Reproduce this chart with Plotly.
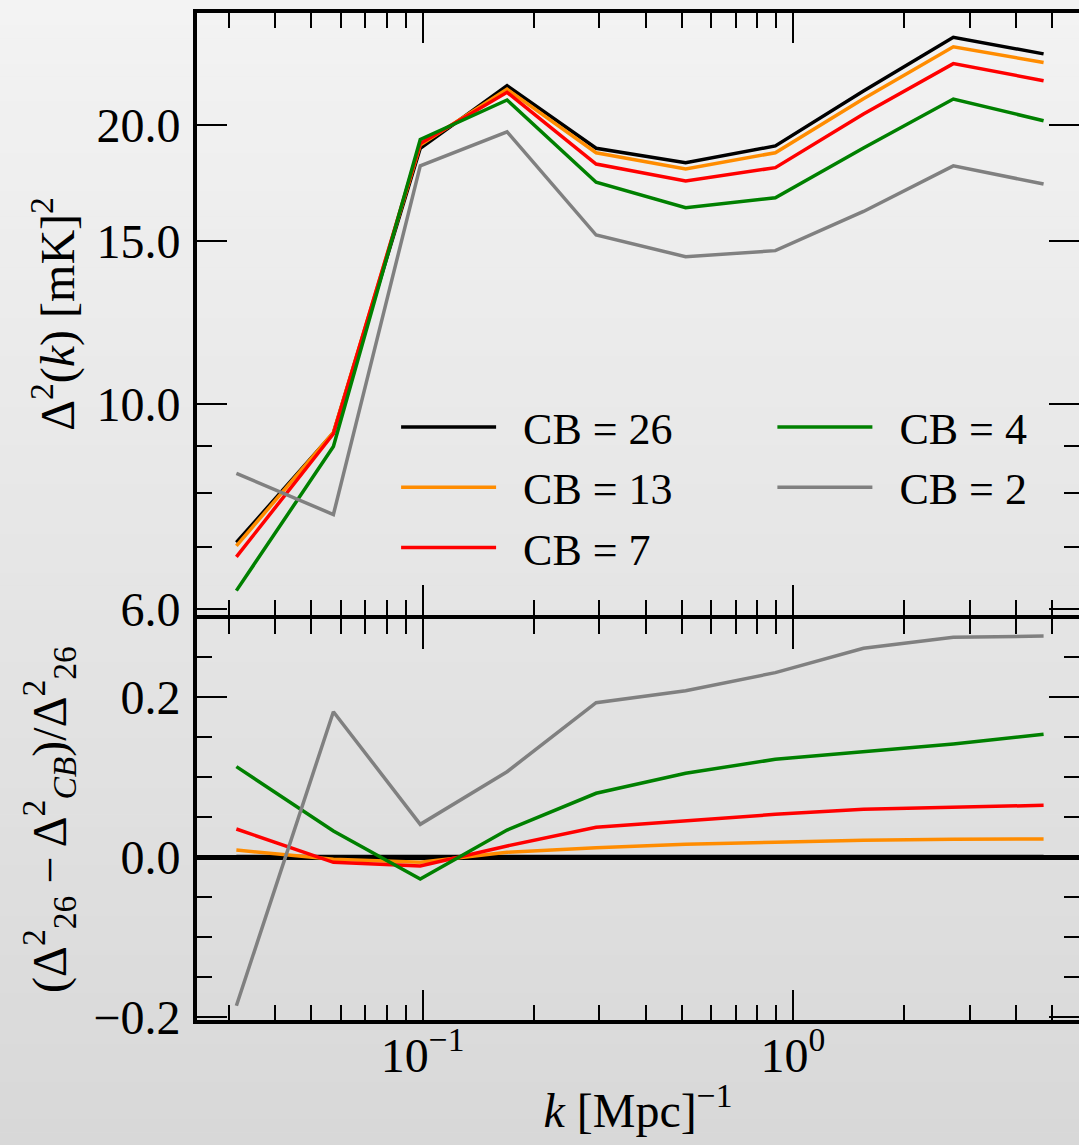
import math
import plotly.graph_objects as go

# ---------------- data ----------------
k = [0.0314, 0.0574, 0.0985, 0.169, 0.294, 0.513, 0.896, 1.55, 2.71, 4.75]

series_names = ["CB = 26", "CB = 13", "CB = 7", "CB = 4", "CB = 2"]
series_colors = ["#000000", "#ff8c00", "#ff0000", "#008000", "#808080"]

pk_cb26 = [7.08, 9.30, 18.89, 22.07, 18.89, 18.22, 19.00, 21.78, 24.90, 23.89]
pk_cb13 = [7.02, 9.31, 19.04, 21.88, 18.68, 17.94, 18.68, 21.37, 24.32, 23.38]
pk_cb7 = [6.83, 9.28, 19.12, 21.71, 18.16, 17.41, 18.00, 20.57, 23.32, 22.35]
pk_cb4 = [6.28, 8.99, 19.31, 21.30, 17.36, 16.29, 16.70, 18.90, 21.35, 20.23]
pk_cb2 = [8.41, 7.59, 18.08, 19.68, 15.22, 14.42, 14.64, 16.14, 18.08, 17.28]

rel_cb26 = [0.0, 0.0, 0.0, 0.0, 0.0, 0.0, 0.0, 0.0, 0.0, 0.0]
rel_cb13 = [0.009, -0.0025, -0.0063, 0.0063, 0.012, 0.0163, 0.0188, 0.0212, 0.0225, 0.0229]
rel_cb7 = [0.0354, -0.0063, -0.0109, 0.0141, 0.0375, 0.0454, 0.0537, 0.060, 0.0629, 0.065]
rel_cb4 = [0.1133, 0.0329, -0.0271, 0.0341, 0.080, 0.105, 0.1225, 0.132, 0.1416, 0.1537]
rel_cb2 = [-0.1855, 0.182, 0.0412, 0.107, 0.1933, 0.2083, 0.2308, 0.2612, 0.275, 0.2766]

x_tickvals = [0.1, 1.0]
x_ticktext = ["10<sup>\u22121</sup>", "10<sup>0</sup>"]
x_minor = [0.03, 0.04, 0.05, 0.06, 0.07, 0.08, 0.09,
           0.2, 0.3, 0.4, 0.5, 0.6, 0.7, 0.8, 0.9, 2, 3, 4, 5, 6]

top_tickvals = [6, 10, 15, 20]
top_ticktext = ["6.0", "10.0", "15.0", "20.0"]
top_minor = [7, 8, 9]

bot_tickvals = [-0.2, 0.0, 0.2]
bot_ticktext = ["\u22120.2", "0.0", "0.2"]
bot_minor = [-0.15, -0.1, -0.05, 0.05, 0.1, 0.15, 0.25]

pk_series = [pk_cb26, pk_cb13, pk_cb7, pk_cb4, pk_cb2]
rel_series = [rel_cb26, rel_cb13, rel_cb7, rel_cb4, rel_cb2]

# ---------------- layout geometry (pixels) ----------------
W, H = 1092, 1145
L_PX, R_PX, T_PX, B_PX = 197, 1083, 13, 1020
TOP_BOTTOM_PX, BOT_TOP_PX = 615, 619      # 4 px gap filled by the axis lines
ML, MR, MT, MB = L_PX, W - R_PX, T_PX, H - B_PX
PW = R_PX - L_PX
PH = B_PX - T_PX
top_dom = [(B_PX - TOP_BOTTOM_PX) / PH, 1]
bot_dom = [0, (B_PX - BOT_TOP_PX) / PH]

X_DEC_PX, X_01_PX = 372.0, 423.7
Y_DEC_PX, Y20_PX = 925.0, 125.3
BOT_UNIT_PX, BOT0_PX = 800.0, 857.3

xr = [-1 - (X_01_PX - L_PX) / X_DEC_PX, -1 + (R_PX - X_01_PX) / X_DEC_PX]
top_r = [math.log10(20) - (TOP_BOTTOM_PX - Y20_PX) / Y_DEC_PX,
         math.log10(20) + (Y20_PX - T_PX) / Y_DEC_PX]
bot_r = [-(B_PX - BOT0_PX) / BOT_UNIT_PX, (BOT0_PX - BOT_TOP_PX) / BOT_UNIT_PX]

FONT = "Liberation Serif"
fig = go.Figure()

for i, (name, col) in enumerate(zip(series_names, series_colors)):
    leg = "legend" if i < 3 else "legend2"
    fig.add_trace(go.Scatter(
        x=k, y=pk_series[i], mode="lines", name="\u00a0\u00a0" + name,
        line=dict(color=col, width=3.5), xaxis="x2", yaxis="y2",
        legend=leg, legendgroup=name, showlegend=True))
for i, (name, col) in enumerate(zip(series_names, series_colors)):
    fig.add_trace(go.Scatter(
        x=k, y=rel_series[i], mode="lines", name=name,
        line=dict(color=col, width=5 if i == 0 else 3.5), xaxis="x", yaxis="y",
        legendgroup=name, showlegend=False))

# background gradient (thin stripes)
shapes = []
N = 90
for j in range(N):
    p0 = H * j / N
    p1 = H * (j + 1) / N + 0.5
    g = round(243 - (243 - 216) * (j + 0.5) / N)
    shapes.append(dict(type="rect", xref="paper", yref="paper", layer="below",
                       x0=-ML / PW - 0.01, x1=1 + MR / PW + 0.01,
                       y0=(B_PX - p1) / PH, y1=(B_PX - p0) / PH,
                       line=dict(width=0), fillcolor=f"rgb({g},{g},{g})"))

tickfont = dict(family=FONT, size=48, color="black")
xcommon = dict(type="log", range=xr, tickmode="array", tickvals=x_tickvals, ticktext=x_ticktext,
               ticks="inside", ticklen=30, tickwidth=2, tickcolor="black",
               minor=dict(tickmode="array", tickvals=x_minor, ticks="inside", ticklen=15,
                          tickwidth=1.5, tickcolor="black", showgrid=False),
               showline=True, linewidth=4, linecolor="black", mirror="ticks",
               showgrid=False, zeroline=False, tickfont=tickfont)
ycommon = dict(ticks="inside", ticklen=30, tickwidth=2, tickcolor="black",
               showline=True, linewidth=4, linecolor="black", mirror="ticks",
               showgrid=False, tickfont=tickfont, tickmode="array", ticklabelstandoff=3)

fig.update_layout(
    width=W, height=H,
    margin=dict(l=ML, r=MR, t=MT, b=MB, pad=0),
    paper_bgcolor="#e4e4e4", plot_bgcolor="rgba(0,0,0,0)",
    font=dict(family=FONT, size=48, color="black"),
    shapes=shapes,
    xaxis=dict(**xcommon, anchor="y", domain=[0, 1], ticklabelstandoff=-10,
               title=dict(text="<i>k</i> [Mpc]<sup>\u22121</sup>",
                          font=dict(family=FONT, size=48), standoff=14)),
    xaxis2=dict(**xcommon, anchor="y2", domain=[0, 1], matches="x", showticklabels=False),
    yaxis=dict(**ycommon, domain=bot_dom, anchor="x", range=bot_r,
               tickvals=bot_tickvals, ticktext=bot_ticktext,
               minor=dict(tickmode="array", tickvals=bot_minor, ticks="inside", ticklen=15,
                          tickwidth=1.5, tickcolor="black", showgrid=False),
               zeroline=True, zerolinecolor="black", zerolinewidth=5,
               title=dict(text="(\u0394<sup>2</sup><sub>26</sub> \u2212 \u0394<sup>2</sup><sub><i>CB</i></sub>)/\u0394<sup>2</sup><sub>26</sub>",
                          font=dict(family=FONT, size=48), standoff=13)),
    yaxis2=dict(**ycommon, domain=top_dom, anchor="x2", type="log", range=top_r,
                tickvals=top_tickvals, ticktext=top_ticktext,
                minor=dict(tickmode="array", tickvals=top_minor, ticks="inside", ticklen=15,
                           tickwidth=1.5, tickcolor="black", showgrid=False),
                zeroline=False,
                title=dict(text="\u0394<sup>2</sup>(<i>k</i>) [mK]<sup>2</sup>",
                           font=dict(family=FONT, size=48), standoff=8)),
    legend=dict(x=(397 - L_PX) / PW, xanchor="left", y=(B_PX - 392) / PH, yanchor="top",
                bgcolor="rgba(0,0,0,0)", borderwidth=0,
                font=dict(family=FONT, size=44, color="black"),
                itemwidth=95, tracegroupgap=10, traceorder="normal"),
    legend2=dict(x=(775 - L_PX) / PW, xanchor="left", y=(B_PX - 392) / PH, yanchor="top",
                 bgcolor="rgba(0,0,0,0)", borderwidth=0,
                 font=dict(family=FONT, size=44, color="black"),
                 itemwidth=95, tracegroupgap=10, traceorder="normal"),
)

fig.write_html(
    "out.html",
    config={"displayModeBar": False},
    post_script="document.body.style.margin='0px';document.body.style.overflow='hidden';",
)
